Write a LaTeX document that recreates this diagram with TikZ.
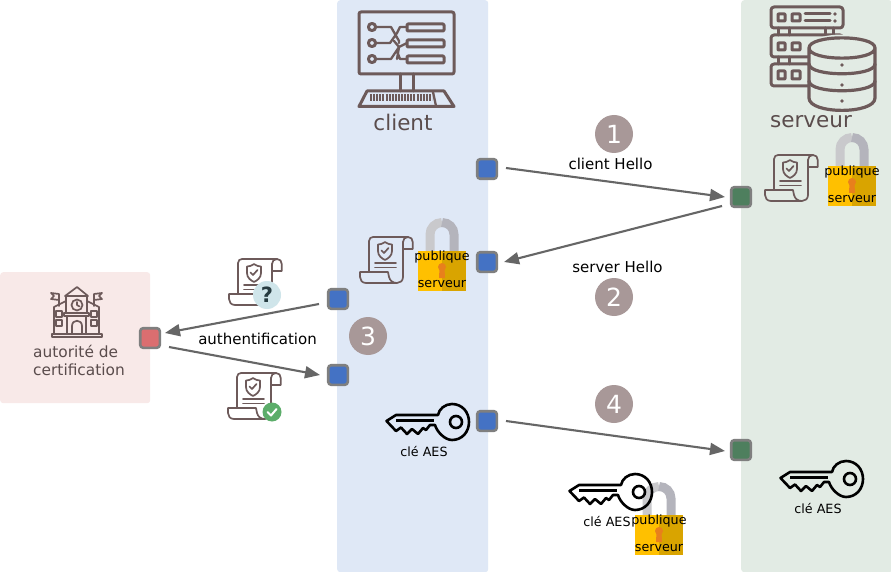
\documentclass[tikz,border=0pt]{standalone}
\usepackage{fontspec}
\setmainfont{DejaVu Sans}
\usetikzlibrary{arrows.meta,calc}
\definecolor{icon}{HTML}{6D5A5A}
\definecolor{lbl}{HTML}{5A4C4C}
\definecolor{clientbg}{HTML}{DFE8F6}
\definecolor{serverbg}{HTML}{E2EBE4}
\definecolor{cabg}{HTML}{F8E9E8}
\definecolor{bub}{HTML}{A89898}
\definecolor{conn}{HTML}{666666}
\definecolor{portedge}{HTML}{7F7F7F}
\definecolor{HTMLblue}{HTML}{4472C4}
\definecolor{HTMLgreen}{HTML}{4E7F5E}
\definecolor{HTMLred}{HTML}{DB6E70}
\definecolor{HTMLshackA}{HTML}{C9C9CC}
\definecolor{HTMLshackB}{HTML}{B4B4BC}
\definecolor{HTMLgold}{HTML}{FFC000}
\definecolor{HTMLgoldd}{HTML}{D9A400}
\definecolor{HTMLkey}{HTML}{E8801C}
\definecolor{CBadge}{HTML}{CFE5EA}
\definecolor{QMark}{HTML}{263B40}
\definecolor{CheckBadge}{HTML}{5CAD6A}
\newcommand{\fs}[1]{\fontsize{#1}{#1}\selectfont}
\tikzset{
  x=1pt,y=-1pt,
  panel/.style={draw=none,rounded corners=3pt,inner sep=0pt,anchor=north west},
  port/.style={rectangle,rounded corners=3pt,draw=portedge,line width=2.6pt,minimum size=19.6pt,inner sep=0pt},
  blueport/.style={port,fill=HTMLblue},
  greenport/.style={port,fill=HTMLgreen},
  redport/.style={port,fill=HTMLred},
  flow/.style={draw=conn,line width=2.1pt,-{Triangle[length=15pt,width=12pt]}},
  bubble/.style={circle,fill=bub,text=white,minimum size=38pt,inner sep=0pt,font=\fs{25}},
  msg/.style={text=black,inner sep=0pt,font=\fs{15}},
  small/.style={text=black,inner sep=0pt,font=\fs{12.7}},
  title/.style={text=lbl,inner sep=0pt,font=\fs{21.5}},
  calbl/.style={text=lbl,inner sep=0pt,font=\fs{15.4},anchor=west},
  ic/.style={draw=icon,line width=1.7pt,line join=round,line cap=round},
  icb/.style={draw=icon,line width=3pt,line join=round,line cap=round},
  certpic/.pic={
    \draw[ic] (9,35) -- (9,5) .. controls (9,2.5) and (11,1) .. (13,1) -- (48,1)
       .. controls (51,1) and (52.7,3) .. (52.7,6) -- (52.7,13) -- (43,13);
    \draw[ic] (43,6) .. controls (43,3) and (45,1) .. (48,1);
    \draw[ic] (43,6) -- (43,41) .. controls (43,45) and (40,47) .. (37,47) -- (6,47)
       .. controls (2,47) and (0,44) .. (0,41) -- (0,36) -- (28,36) -- (29,41)
       .. controls (30,45) and (33,47) .. (37,47);
    \draw[ic] (25,6) .. controls (22,8) and (20,8.5) .. (18,8.5) -- (18,15)
       .. controls (18,20) and (22,22.5) .. (25,24) .. controls (28,22.5) and (32,20) .. (32,15)
       -- (32,8.5) .. controls (30,8.5) and (28,8) .. (25,6) -- cycle;
    \draw[ic] (21.5,14.5) -- (24,17) -- (28.5,12);
    \draw[ic] (15,27) -- (36,27) (15,31.5) -- (36,31.5);
  },
  lockpic/.pic={
    \draw[line width=9pt,draw=HTMLshackA] (12,1) -- (12,-16.5) .. controls (12,-23) and (17,-28.5) .. (24,-28.5);
    \draw[line width=9pt,draw=HTMLshackB] (36,1) -- (36,-16.5) .. controls (36,-23) and (31,-28.5) .. (24,-28.5);
    \fill[HTMLgold] (0,0) rectangle (24,40);
    \fill[HTMLgoldd] (24,0) rectangle (48,40);
    \fill[HTMLkey] (24,16) circle (4);
    \fill[HTMLkey] (21.5,17) -- (26.5,17) -- (27,27) -- (21,27) -- cycle;
    \node[small] (pub) at (24,6.3) {publique};
    \node[small] (srv) at (24,33.3) {serveur};
  },
  keypic/.pic={
    \draw[black,line width=2.6pt,line join=round,line cap=round]
      (53,12) -- (11,12) -- (1.5,18) -- (11,28) -- (16,24.5) -- (22,31) -- (27,26) -- (33,31)
      -- (38,25) -- (41,27) -- (45,22) -- (50,22)
      .. controls (52,29) and (60,37) .. (67,37)
      .. controls (77,37) and (84,29) .. (84,19)
      .. controls (84,9) and (77,1) .. (67,1)
      .. controls (60,1) and (54,6) .. (53,12);
    \draw[black,line width=2.4pt] (11,17.5) -- (49,17.5);
    \draw[black,line width=2.6pt] (71,19) circle (6);
  }
}
\begin{document}
\begin{tikzpicture}
\useasboundingbox (0,0) rectangle (891,572);
\fill[white] (0,0) rectangle (891,572);
% panels
\node[panel,fill=clientbg,minimum width=151pt,minimum height=572pt] (clientpanel) at (337,0) {};
\node[panel,fill=serverbg,minimum width=151pt,minimum height=572pt] (serverpanel) at (741,0) {};
\node[panel,fill=cabg,minimum width=150pt,minimum height=131pt] (capanel) at (0,272) {};
% client monitor
\draw[icb,rounded corners=2pt] (359,12) rectangle (454,74);
\draw[icb] (400,74) -- (400,91) (413,74) -- (413,91);
\draw[icb] (367,91) -- (444,91) -- (454,106.5) -- (359,106.5) -- cycle;
\draw[icb] (372,27) circle (3.6) (372,43) circle (3.6) (372,59) circle (3.6);
\draw[icb,rounded corners=1pt] (407,24) rectangle (444,31) (407,40) rectangle (444,47) (407,56) rectangle (444,63);
\draw[ic,line width=2.3pt] (376,27) -- (391,27) -- (399,41) -- (399,43) (376,43) -- (390,43) -- (397,33) -- (400,27) -- (407,27)
   (376,59) -- (391,59) -- (399,47) (394,41) -- (399,47) -- (407,43) (399,47) -- (397,59) (397,51) -- (400,59) -- (407,59);
\draw[icon,line width=6.5pt,dash pattern=on 2pt off 1.1pt] (370,97.5) -- (432,97.5);
\draw[ic,line width=2.3pt] (433,92) -- (436,106);
\node[title] (clientlbl) at (403,122) {client};
% server icon
\draw[icb,rounded corners=3pt] (771,7) rectangle (843,28) (771,35) rectangle (843,57) (771,64) rectangle (843,86);
\draw[icb,rounded corners=.5pt] (778,14) rectangle (785,21) (792,14) rectangle (800,21)
   (778,43) rectangle (785,50) (792,43) rectangle (800,50)
   (778,71) rectangle (785,79) (792,71) rectangle (800,79);
\draw[icb] (805,14) -- (830,14) (805,21) -- (830,21);
\fill[icon] (835,14) circle (1.8) (835,21) circle (1.8);
\draw[icb] (778,28) -- (778,35) (789,28) -- (789,35) (825,28) -- (825,35) (833,28) -- (833,35) (778,57) -- (778,64) (789,57) -- (789,64);
\fill[serverbg] (809,48) .. controls (809,30) and (875,30) .. (875,48) -- (875,100) .. controls (875,118) and (809,118) .. (809,100) -- cycle;
\draw[icb,line width=3.2pt] (809,48) .. controls (809,34.5) and (875,34.5) .. (875,48) .. controls (875,61.5) and (809,61.5) .. (809,48) -- (809,98)
   .. controls (809,114.5) and (875,114.5) .. (875,98) -- (875,48);
\draw[icb,line width=3.2pt] (809,64) .. controls (809,77) and (875,77) .. (875,64)
   (809,81) .. controls (809,94) and (875,94) .. (875,81);
\fill[icon] (842,65) circle (1.9) (842,85) circle (1.9) (842,101) circle (1.9);
\node[title] (serverlbl) at (811,121.5) {serveur};
% CA icon
\begin{scope}[ic]
 \draw[line width=2pt] (52,333.5) rectangle (102,337);
 \draw (54,333) -- (54,307) -- (66,301) (99,333) -- (99,307) -- (87,301);
 \draw (66,296) rectangle (87,313);
 \draw (65,296) -- (77,287) -- (88,296) -- cycle;
 \draw (77,305) circle (5.5) (77,302) -- (77,305) -- (79.5,306.5);
 \draw (64,313) rectangle (89,316);
 \draw (67,316) -- (67,333) (86,316) -- (86,333);
 \draw (72,333) -- (72,326) .. controls (72,319) and (82,319) .. (82,326) -- (82,333);
 \draw (56,311) rectangle (62,317) (56,320) rectangle (62,326) (91,311) rectangle (97,317) (91,320) rectangle (97,326);
 \draw (59,306) -- (59,294) (51,293) -- (59,294) -- (59,300) -- (51,299) -- (54,296) -- cycle;
 \draw (94,306) -- (94,294) (102,293) -- (94,294) -- (94,300) -- (102,299) -- (99,296) -- cycle;
\end{scope}
\node[calbl] (calbl1) at (33,351) {autorité de};
\node[calbl] (calbl2) at (33,370) {certification};
% certificates and locks
\pic at (360,236) {certpic};
\pic at (765,154) {certpic};
\pic at (229,258) {certpic};
\pic at (228,372) {certpic};
\fill[CBadge] (267,295) circle (14);
\node[inner sep=0pt,text=QMark,font=\bfseries\fs{21}] (qmark) at (267,295) {?};
\fill[CheckBadge] (272,412) circle (9.5);
\draw[white,line width=2pt,line cap=round,line join=round] (267.5,412) -- (271,415.5) -- (276.5,409);
\pic (lk1) at (418,251) {lockpic};
\pic (lk2) at (828,166) {lockpic};
\pic (lk3) at (635,515) {lockpic};
% keys
\pic at (385,403) {keypic};
\pic at (568,473) {keypic};
\pic at (779,460) {keypic};
\node[small] (k1) at (424,451.3) {clé AES};
\node[small] (k2) at (607,521.3) {clé AES};
\node[small] (k3) at (818,508.3) {clé AES};
% ports
\node[blueport] (c1) at (487,169) {};
\node[blueport] (c2) at (487,262) {};
\node[blueport] (c3) at (338,299) {};
\node[blueport] (c4) at (338,375) {};
\node[blueport] (c5) at (487,421) {};
\node[greenport] (s1) at (741,197) {};
\node[greenport] (s2) at (741,450) {};
\node[redport] (ca) at (150,338) {};
% connectors
\draw[flow] ([shift={(19,-1)}]c1.center) -- ([shift={(-16,0)}]s1.center);
\draw[flow] ([shift={(-19,9)}]s1.center) -- ([shift={(17,0)}]c2.center);
\draw[flow] ([shift={(-19,5)}]c3.center) -- ([shift={(15,-5)}]ca.center);
\draw[flow] ([shift={(19,9)}]ca.center) -- ([shift={(-18,0)}]c4.center);
\draw[flow] ([shift={(19,0)}]c5.center) -- ([shift={(-16,1)}]s2.center);
% labels
\node[bubble] (n1) at (614,134) {1};
\node[bubble] (n2) at (614,297) {2};
\node[bubble] (n3) at (368,336) {3};
\node[bubble] (n4) at (614,404) {4};
\node[msg] (m1) at (610.5,163.5) {client Hello};
\node[msg] (m2) at (617.5,266.5) {server Hello};
\node[msg] (m3) at (257.5,338.5) {authentification};
\end{tikzpicture}
\end{document}
